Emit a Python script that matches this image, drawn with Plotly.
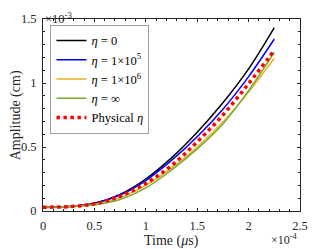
import plotly.graph_objects as go

# time in units of 1e-4 us, amplitude in units of 1e-3 cm
time = [0, 0.25, 0.5, 0.75, 1.0, 1.25, 1.5, 1.75, 2.0, 2.25]
amp_eta0 = [0.030, 0.035, 0.060, 0.130, 0.250, 0.415, 0.615, 0.845, 1.110, 1.432]
amp_eta1e5 = [0.030, 0.035, 0.059, 0.125, 0.238, 0.395, 0.580, 0.795, 1.050, 1.344]
amp_eta1e6 = [0.030, 0.034, 0.052, 0.105, 0.200, 0.335, 0.500, 0.695, 0.930, 1.193]
amp_etainf = [0.028, 0.032, 0.048, 0.090, 0.180, 0.320, 0.485, 0.680, 0.940, 1.240]
amp_phys = [0.030, 0.034, 0.056, 0.115, 0.215, 0.355, 0.540, 0.750, 0.995, 1.255]

names = ["<i>η</i> = 0", "<i>η</i> = 1×10<sup>5</sup>", "<i>η</i> = 1×10<sup>6</sup>",
         "<i>η</i> = ∞", "Physical <i>η</i>"]
series = [amp_eta0, amp_eta1e5, amp_eta1e6, amp_etainf, amp_phys]
colors = ["#000000", "#0000ff", "#EDB120", "#77AC30", "#ff0000"]

x_ticks = [0, 0.5, 1, 1.5, 2, 2.5]
x_ticktext = ["0", "0.5", "1", "1.5", "2", "2.5"]
y_ticks = [0, 0.5, 1, 1.5]
y_ticktext = ["0", "0.5", "1", "1.5"]

font = "'Liberation Serif', 'Times New Roman', Times, 'DejaVu Serif', serif"
txtc = "#262626"
fig = go.Figure()
for i, (n, s, c) in enumerate(zip(names, series, colors)):
    if i == 4:
        line = dict(color=c, width=3.5, dash="dot", shape="spline")
    else:
        line = dict(color=c, width=1.5, shape="spline")
    fig.add_trace(go.Scatter(x=time, y=s, mode="lines", name=n, line=line))

axis_common = dict(showgrid=False, zeroline=False, showline=True, linecolor=txtc,
                   linewidth=1, mirror="allticks", ticks="inside", ticklen=3,
                   tickcolor=txtc, automargin=False, ticklabelstandoff=3,
                   tickfont=dict(family=font, size=12.5, color=txtc))
fig.update_xaxes(range=[0, 2.5], tickvals=x_ticks, ticktext=x_ticktext,
                 minor=dict(dtick=0.1, ticks="inside", ticklen=2, tickcolor=txtc),
                 **axis_common)
fig.update_yaxes(range=[0, 1.5], tickvals=y_ticks, ticktext=y_ticktext,
                 minor=dict(dtick=0.1, ticks="inside", ticklen=2, tickcolor=txtc),
                 **axis_common)

afont = dict(family=font, size=14, color=txtc)
fig.add_annotation(text="Time (<i>μ</i>s)", xref="paper", yref="paper", x=0.5, y=-0.155,
                   xanchor="center", yanchor="middle", showarrow=False, font=afont)
fig.add_annotation(text="Amplitude (cm)", xref="paper", yref="paper", x=-0.104, y=0.5,
                   xanchor="center", yanchor="middle", textangle=-90, showarrow=False, font=afont)
fig.add_annotation(text="×10<sup>-3</sup>", xref="paper", yref="paper", x=0, y=1.057,
                   xanchor="left", yanchor="top", showarrow=False,
                   font=dict(family=font, size=12.5, color=txtc))
fig.add_annotation(text="×10<sup>-4</sup>", xref="paper", yref="paper", x=1.0, y=-0.2,
                   xanchor="right", yanchor="bottom", showarrow=False,
                   font=dict(family=font, size=12, color=txtc))

fig.update_layout(
    width=324, height=241,
    margin=dict(l=34.5, r=32, t=11, b=38, autoexpand=False),
    plot_bgcolor="white", paper_bgcolor="white",
    showlegend=True,
    legend=dict(x=0.029, y=0.969, xanchor="left", yanchor="top",
                bgcolor="white", bordercolor="#a0a0a0", borderwidth=1,
                font=dict(family=font, size=12.5, color="#000000"),
                itemwidth=30, tracegroupgap=0),
)
fig.write_html("out.html")
